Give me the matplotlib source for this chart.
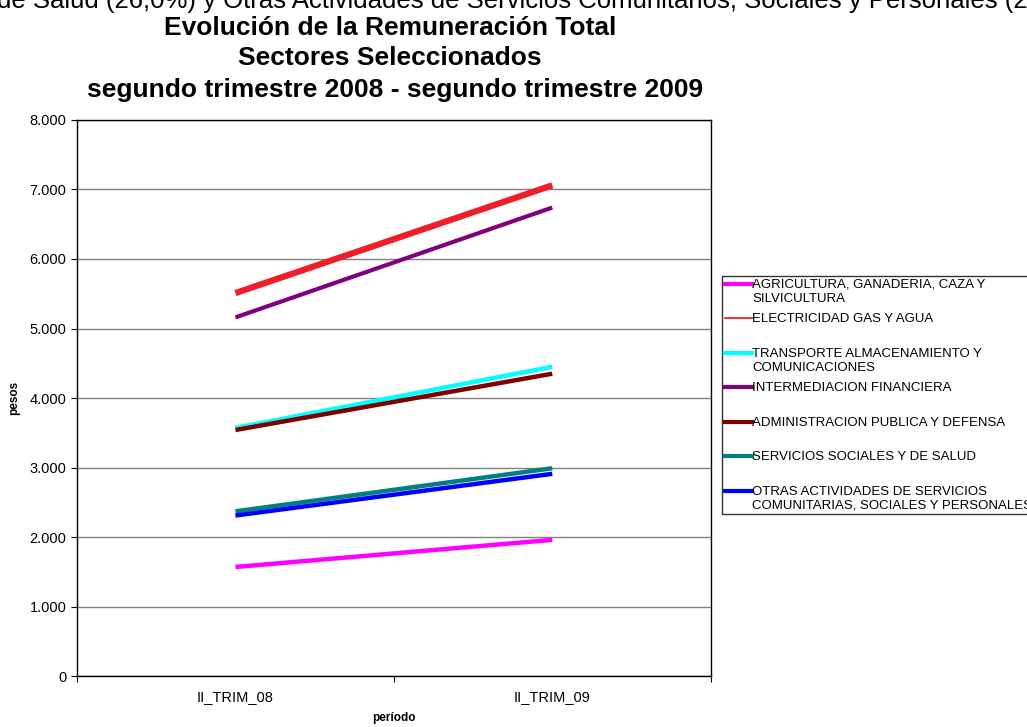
import matplotlib
matplotlib.use("Agg")
import numpy as np
import matplotlib.pyplot as plt
from matplotlib.lines import Line2D
from matplotlib.legend_handler import HandlerLine2D
from matplotlib.ticker import FuncFormatter

plt.rcParams['font.family'] = ['Liberation Sans', 'DejaVu Sans']

periodos = ["II_TRIM_08", "II_TRIM_09"]

sectores = [
    "AGRICULTURA, GANADERIA, CAZA Y\nSILVICULTURA",
    "ELECTRICIDAD GAS Y AGUA",
    "TRANSPORTE ALMACENAMIENTO Y\nCOMUNICACIONES",
    "INTERMEDIACION FINANCIERA",
    "ADMINISTRACION PUBLICA Y DEFENSA",
    "SERVICIOS SOCIALES Y DE SALUD",
    "OTRAS ACTIVIDADES DE SERVICIOS\nCOMUNITARIAS, SOCIALES Y PERSONALES",
]

agricultura = [1570, 1960]
electricidad = [5510, 7060]
transporte = [3570, 4450]
financiera = [5160, 6740]
administracion = [3540, 4350]
salud = [2370, 2990]
otras = [2310, 2910]

valores = [agricultura, electricidad, transporte, financiera,
           administracion, salud, otras]
colores = ["#FF00FF", "#F01E28", "#00FFFF", "#800080",
           "#800000", "#008080", "#0000FF"]
grosor_plot = [3.2, 4.5, 3.2, 3.0, 3.2, 3.2, 3.2]
grosor_legend = [3, 1.3, 3, 3, 3, 3, 3]


class HandlerArriba(HandlerLine2D):
    """sube la linea de la leyenda a la altura de la primera linea del texto"""
    def __init__(self, shift, **kw):
        super().__init__(**kw)
        self.shift = shift

    def create_artists(self, legend, orig_handle, xdescent, ydescent,
                       width, height, fontsize, trans):
        artists = super().create_artists(legend, orig_handle, xdescent, ydescent,
                                         width, height, fontsize, trans)
        for a in artists:
            a.set_ydata(np.asarray(a.get_ydata()) + self.shift * fontsize)
        return artists


fig = plt.figure(figsize=(10.27, 7.27), dpi=100)
ax = fig.add_axes([0.075, 0.07, 0.617, 0.765])

x = list(range(len(periodos)))
for vals, col, w in zip(valores, colores, grosor_plot):
    ax.plot(x, vals, color=col, linewidth=w, solid_capstyle='butt')

ax.set_xlim(-0.5, 1.5)
ax.set_ylim(0, 8000)
ax.set_yticks(range(0, 8001, 1000))
ax.yaxis.set_major_formatter(FuncFormatter(lambda v, p: f"{int(v):,}".replace(",", ".")))
ax.set_xticks([-0.5, 0.5, 1.5])
ax.set_xticklabels([])
ax.set_xticks(x, minor=True)
ax.set_xticklabels(periodos, minor=True)
ax.tick_params(axis='x', which='minor', length=0, pad=10, labelsize=10.5)
ax.tick_params(axis='x', which='major', length=4, direction='out', width=0.8)
ax.tick_params(axis='y', length=4, direction='out', labelsize=10.5, width=0.8)
ax.grid(axis='y', color='#808080', linewidth=1)
ax.set_axisbelow(True)
for s in ax.spines.values():
    s.set_color('black')
    s.set_linewidth(1)

ax.set_ylabel("pesos", fontsize=8.5, fontweight='bold', labelpad=7)
ax.set_xlabel("período", fontsize=8.5, fontweight='bold', labelpad=6)

fig.text(-0.003, 0.989,
         "de Salud (26,0%) y Otras Actividades de Servicios Comunitarios, Sociales y Personales (26,0%)",
         fontsize=18.5, ha='left', va='baseline')
fig.text(0.38, 0.952, "Evolución de la Remuneración Total", fontsize=19,
         fontweight='bold', ha='center', va='baseline')
fig.text(0.38, 0.911, "Sectores Seleccionados", fontsize=19,
         fontweight='bold', ha='center', va='baseline')
fig.text(0.385, 0.867, "segundo trimestre 2008 - segundo trimestre 2009", fontsize=19,
         fontweight='bold', ha='center', va='baseline')

# cada entrada ocupa el mismo alto (como en Excel): las de una linea llevan una linea vacia
etiquetas = [s if "\n" in s else s + "\n " for s in sectores]
handles = [Line2D([0], [0], color=c, linewidth=w) for c, w in zip(colores, grosor_legend)]
hmap = {h: HandlerArriba(0.6) for h in handles}
leg = fig.legend(handles, etiquetas, loc='upper left', bbox_to_anchor=(0.703, 0.620),
                 fontsize=9.5, frameon=True, fancybox=False, handlelength=2.1,
                 handletextpad=0.0, labelspacing=0.66, borderpad=0.2,
                 borderaxespad=0, handler_map=hmap)
leg.get_frame().set_edgecolor('black')
leg.get_frame().set_linewidth(1)

fig.savefig("out.png", dpi=100)
